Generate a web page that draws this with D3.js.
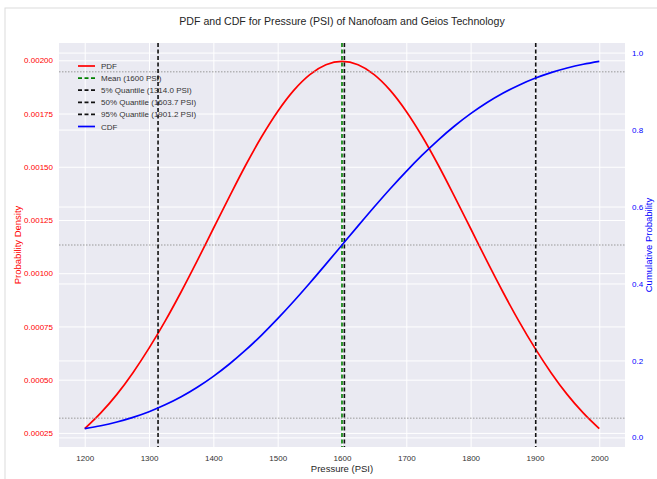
<!DOCTYPE html>
<html>
<head>
<meta charset="utf-8">
<script src="https://cdn.jsdelivr.net/npm/d3@7"></script>
<style>
  body { margin: 0; background: #fff; }
  text { font-family: "Liberation Sans", Arial, sans-serif; }
</style>
</head>
<body>
<div id="chart"></div>
<script>
// pressure grid (PSI) and values
var pressure = [1200, 1225, 1250, 1275, 1300, 1325, 1350, 1375, 1400, 1425, 1450, 1475, 1500, 1525, 1550, 1575,
  1600, 1625, 1650, 1675, 1700, 1725, 1750, 1775, 1800, 1825, 1850, 1875, 1900, 1925, 1950, 1975, 2000];
var pdfValues = [0.000270, 0.000344, 0.000431, 0.000533, 0.000648, 0.000775, 0.000913, 0.001059, 0.001210,
  0.001360, 0.001506, 0.001641, 0.001760, 0.001859, 0.001933, 0.001979, 0.001995,
  0.001979, 0.001933, 0.001859, 0.001760, 0.001641, 0.001506, 0.001360, 0.001210,
  0.001059, 0.000913, 0.000775, 0.000648, 0.000533, 0.000431, 0.000344, 0.000270];
var cdfValues = [0.0228, 0.0304, 0.0401, 0.0521, 0.0668, 0.0846, 0.1056, 0.1303, 0.1587, 0.1908, 0.2266,
  0.2660, 0.3085, 0.3538, 0.4013, 0.4503, 0.5000, 0.5497, 0.5987, 0.6462, 0.6915, 0.7340,
  0.7734, 0.8092, 0.8413, 0.8697, 0.8944, 0.9154, 0.9332, 0.9479, 0.9599, 0.9696, 0.9772];

var meanValue = 1600;
var quantiles = [
  {label: "5% Quantile (1314.0 PSI)", value: 1314.0},
  {label: "50% Quantile (1603.7 PSI)", value: 1603.7},
  {label: "95% Quantile (1901.2 PSI)", value: 1901.2}
];
var cdfLevels = [0.05, 0.5, 0.95];

var xTicks = [1200, 1300, 1400, 1500, 1600, 1700, 1800, 1900, 2000];
var pdfTicks = [0.00025, 0.0005, 0.00075, 0.001, 0.00125, 0.0015, 0.00175, 0.002];
var cdfTicks = [0, 0.2, 0.4, 0.6, 0.8, 1.0];

var W = 657, H = 479;
var margin = {top: 43, right: 32, bottom: 32, left: 59},
  width = W - margin.left - margin.right,
  height = H - margin.top - margin.bottom;

var data = pressure.map(function(p, i) { return {p: p, pdf: pdfValues[i], cdf: cdfValues[i]}; });

var svgRoot = d3.select("#chart").append("svg")
  .attr("width", W)
  .attr("height", H);

// faint screenshot frame
svgRoot.append("rect")
  .attr("x", 5).attr("y", 8)
  .attr("width", W + 10).attr("height", H + 10)
  .attr("fill", "none")
  .attr("stroke", "#dcdcdc");

svgRoot.append("text")
  .attr("x", margin.left + width / 2)
  .attr("y", 25)
  .attr("text-anchor", "middle")
  .style("font-size", "10.6px")
  .style("fill", "#262626")
  .text("PDF and CDF for Pressure (PSI) of Nanofoam and Geios Technology");

var svg = svgRoot.append("g")
  .attr("transform", "translate(" + margin.left + "," + margin.top + ")");

// scales (5% padding like matplotlib)
var pad = (d3.max(pressure) - d3.min(pressure)) * 0.05;
var x = d3.scaleLinear()
  .domain([d3.min(pressure) - pad, d3.max(pressure) + pad])
  .range([0, width]);

var pdfExt = d3.extent(pdfValues), pdfPad = (pdfExt[1] - pdfExt[0]) * 0.05;
var y = d3.scaleLinear()
  .domain([pdfExt[0] - pdfPad, pdfExt[1] + pdfPad])
  .range([height, 0]);

var cdfExt = d3.extent(cdfValues), cdfPad = (cdfExt[1] - cdfExt[0]) * 0.05;
var y2 = d3.scaleLinear()
  .domain([cdfExt[0] - cdfPad, cdfExt[1] + cdfPad])
  .range([height, 0]);

svg.append("rect")
  .attr("width", width)
  .attr("height", height)
  .attr("fill", "#eaeaf2");

// grid
svg.append("g")
  .call(d3.axisBottom(x).tickValues(xTicks).tickSize(height).tickFormat(""))
  .call(function(g) {
    g.select(".domain").remove();
    g.selectAll("line").attr("stroke", "#fff").attr("stroke-width", 1);
  });
svg.append("g")
  .call(d3.axisLeft(y).tickValues(pdfTicks).tickSize(-width).tickFormat(""))
  .call(function(g) {
    g.select(".domain").remove();
    g.selectAll("line").attr("stroke", "#fff").attr("stroke-width", 1);
  });
svg.append("g")
  .call(d3.axisLeft(y2).tickValues(cdfTicks).tickSize(-width).tickFormat(""))
  .call(function(g) {
    g.select(".domain").remove();
    g.selectAll("line").attr("stroke", "#fff").attr("stroke-width", 1);
  });

// axes labels
var xAxis = svg.append("g")
  .attr("transform", "translate(0," + height + ")")
  .call(d3.axisBottom(x).tickValues(xTicks).tickSize(0).tickPadding(8).tickFormat(d3.format("d")));
xAxis.select(".domain").remove();
xAxis.selectAll("text").style("font-size", "8px").style("fill", "#333");

var yAxis = svg.append("g")
  .call(d3.axisLeft(y).tickValues(pdfTicks).tickSize(0).tickPadding(6).tickFormat(d3.format(".5f")));
yAxis.select(".domain").remove();
yAxis.selectAll("text").style("font-size", "8px").style("fill", "red");

var yAxis2 = svg.append("g")
  .attr("transform", "translate(" + width + ",0)")
  .call(d3.axisRight(y2).tickValues(cdfTicks).tickSize(0).tickPadding(7).tickFormat(d3.format(".1f")));
yAxis2.select(".domain").remove();
yAxis2.selectAll("text").style("font-size", "8px").style("fill", "blue");

svg.append("text")
  .attr("x", width / 2)
  .attr("y", height + 25)
  .attr("text-anchor", "middle")
  .style("font-size", "9.5px")
  .style("fill", "#262626")
  .text("Pressure (PSI)");

svg.append("text")
  .attr("transform", "translate(" + (-38) + "," + (height / 2) + ") rotate(-90)")
  .attr("text-anchor", "middle")
  .style("font-size", "9.5px")
  .style("fill", "red")
  .text("Probability Density");

svg.append("text")
  .attr("transform", "translate(" + (width + 27) + "," + (height / 2) + ") rotate(-90)")
  .attr("text-anchor", "middle")
  .style("font-size", "9.5px")
  .style("fill", "blue")
  .text("Cumulative Probability");

// curves
var pdfLine = d3.line()
  .x(function(d) { return x(d.p); })
  .y(function(d) { return y(d.pdf); })
  .curve(d3.curveMonotoneX);
var cdfLine = d3.line()
  .x(function(d) { return x(d.p); })
  .y(function(d) { return y2(d.cdf); })
  .curve(d3.curveMonotoneX);

svg.append("path")
  .datum(data)
  .attr("d", pdfLine)
  .attr("fill", "none")
  .attr("stroke", "red")
  .attr("stroke-width", 1.7);

// legend
var legendItems = [
  {label: "PDF", color: "red", dash: null},
  {label: "Mean (" + meanValue + " PSI)", color: "green", dash: "4,2.5"}
].concat(quantiles.map(function(q) { return {label: q.label, color: "#111", dash: "4,2.5"}; }))
 .concat([{label: "CDF", color: "blue", dash: null}]);

var legend = svg.append("g").attr("transform", "translate(19,23)");
legend.selectAll("line")
  .data(legendItems)
  .join("line")
  .attr("x1", 0).attr("x2", 17)
  .attr("y1", function(d, i) { return i * 12.1; })
  .attr("y2", function(d, i) { return i * 12.1; })
  .attr("stroke", function(d) { return d.color; })
  .attr("stroke-width", 1.7)
  .attr("stroke-dasharray", function(d) { return d.dash; });
legend.selectAll("text")
  .data(legendItems)
  .join("text")
  .attr("x", 23)
  .attr("y", function(d, i) { return i * 12.1 + 3; })
  .style("font-size", "8px")
  .style("fill", "#333")
  .text(function(d) { return d.label; });

// CDF reference levels
svg.selectAll(".level")
  .data(cdfLevels)
  .join("line")
  .attr("class", "level")
  .attr("x1", 0).attr("x2", width)
  .attr("y1", function(d) { return y2(d); })
  .attr("y2", function(d) { return y2(d); })
  .attr("stroke", "#999")
  .attr("stroke-width", 1)
  .attr("stroke-dasharray", "1.5,1.5");

// mean and quantile lines
svg.append("line")
  .attr("x1", x(meanValue)).attr("x2", x(meanValue))
  .attr("y1", 0).attr("y2", height)
  .attr("stroke", "green")
  .attr("stroke-width", 1.6)
  .attr("stroke-dasharray", "4,2.5");
svg.selectAll(".quant")
  .data(quantiles)
  .join("line")
  .attr("class", "quant")
  .attr("x1", function(d) { return x(d.value); })
  .attr("x2", function(d) { return x(d.value); })
  .attr("y1", 0).attr("y2", height)
  .attr("stroke", "#111")
  .attr("stroke-width", 1.6)
  .attr("stroke-dasharray", "4,2.5");

svg.append("path")
  .datum(data)
  .attr("d", cdfLine)
  .attr("fill", "none")
  .attr("stroke", "blue")
  .attr("stroke-width", 1.7);
</script>
</body>
</html>
